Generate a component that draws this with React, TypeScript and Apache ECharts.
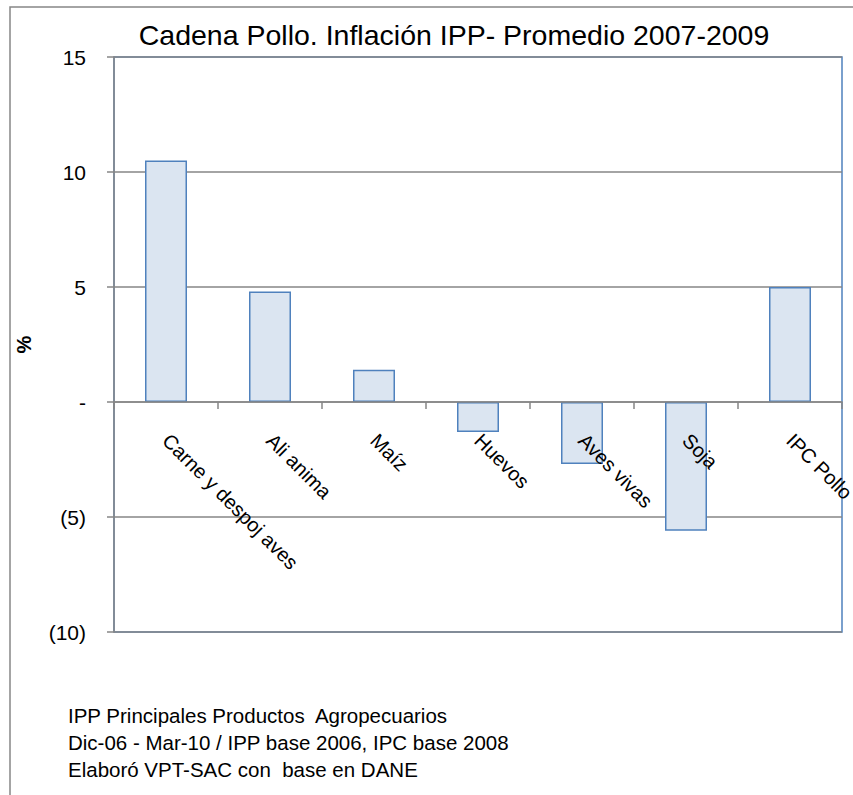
import React, { useEffect, useRef } from "react";
import * as echarts from "echarts";

const titleText = "Cadena Pollo. Inflación IPP- Promedio 2007-2009";
const categories = ["Carne y despoj aves", "Ali anima", "Maíz", "Huevos", "Aves vivas", "Soja", "IPC Pollo"];
const values = [10.5, 4.8, 1.4, -1.3, -2.7, -5.6, 5.0];
const yName = "%";
const footerLines = [
  "IPP Principales Productos  Agropecuarios",
  "Dic-06 - Mar-10 / IPP base 2006, IPC base 2008",
  "Elaboró VPT-SAC con  base en DANE",
];

const FONT = "'Liberation Sans', 'DejaVu Sans', sans-serif";

const Y_MIN = -10;
const Y_MAX = 15;
const GRID_TOP = 57;
const GRID_BOTTOM = 163;
const H = 795;

export default function App() {
  const ref = useRef<HTMLDivElement>(null);
  useEffect(() => {
    if (!ref.current) return;
    const chart = echarts.init(ref.current, undefined, { renderer: "svg" });
    const gridH = H - GRID_TOP - GRID_BOTTOM;
    const zeroOffset = -((0 - Y_MIN) / (Y_MAX - Y_MIN)) * gridH;
    chart.setOption({
      animation: false,
      backgroundColor: "#ffffff",
      textStyle: { fontFamily: FONT },
      title: {
        text: titleText,
        left: 449,
        top: 15,
        textAlign: "center",
        textStyle: { fontFamily: FONT, fontSize: 28.5, fontWeight: "normal", color: "#000" },
      },
      grid: {
        left: 114,
        right: 11,
        top: GRID_TOP,
        bottom: GRID_BOTTOM,
        show: true,
        borderColor: "#4f81bd",
        borderWidth: 1.5,
        containLabel: false,
        outerBoundsMode: "none",
      },
      xAxis: {
        type: "category",
        data: categories,
        boundaryGap: true,
        offset: zeroOffset,
        z: 5,
        axisLine: { onZero: false, lineStyle: { color: "#868686", width: 1.5 } },
        axisTick: { show: true, alignWithLabel: false, length: 7, inside: false, lineStyle: { color: "#868686", width: 1.5 } },
        axisLabel: {
          interval: 0,
          rotate: -45,
          margin: 35,
          fontFamily: FONT,
          fontSize: 20,
          color: "#000",
        },
      },
      yAxis: {
        type: "value",
        min: Y_MIN,
        max: Y_MAX,
        interval: 5,
        name: yName,
        nameLocation: "middle",
        nameGap: 80,
        nameRotate: 90,
        nameTextStyle: { fontFamily: FONT, fontSize: 20, fontWeight: "bold", color: "#000" },
        axisLine: { show: true, lineStyle: { color: "#868686", width: 1.5 } },
        axisTick: { show: true, length: 7, lineStyle: { color: "#868686", width: 1.5 } },
        splitLine: { show: true, lineStyle: { color: "#868686", width: 1.5 } },
        axisLabel: {
          margin: 28,
          fontFamily: FONT,
          fontSize: 21,
          color: "#000",
          formatter: (v: number) => (v === 0 ? "-" : v < 0 ? `(${-v})` : `${v}`),
        },
      },
      series: [
        {
          type: "bar",
          data: values,
          barWidth: 42,
          z: 2,
          itemStyle: { color: "#dbe5f1", borderColor: "#4f81bd", borderWidth: 1.5 },
        },
      ],
      graphic: [
        {
          type: "rect",
          shape: { x: 10, y: 7, width: 900, height: 850 },
          style: { fill: "none", stroke: "#868686", lineWidth: 1.5 },
          silent: true,
          z: -1,
        },
        ...footerLines.map((t, i) => ({
          type: "text",
          left: 68,
          top: 705 + i * 27,
          style: { text: t, fontFamily: FONT, fontSize: 20.5, fill: "#000" },
        })),
      ],
    });
    return () => chart.dispose();
  }, []);
  return (
    <div
      ref={ref}
      style={{ position: "absolute", left: 0, top: 0, width: 853, height: 795 }}
    />
  );
}
